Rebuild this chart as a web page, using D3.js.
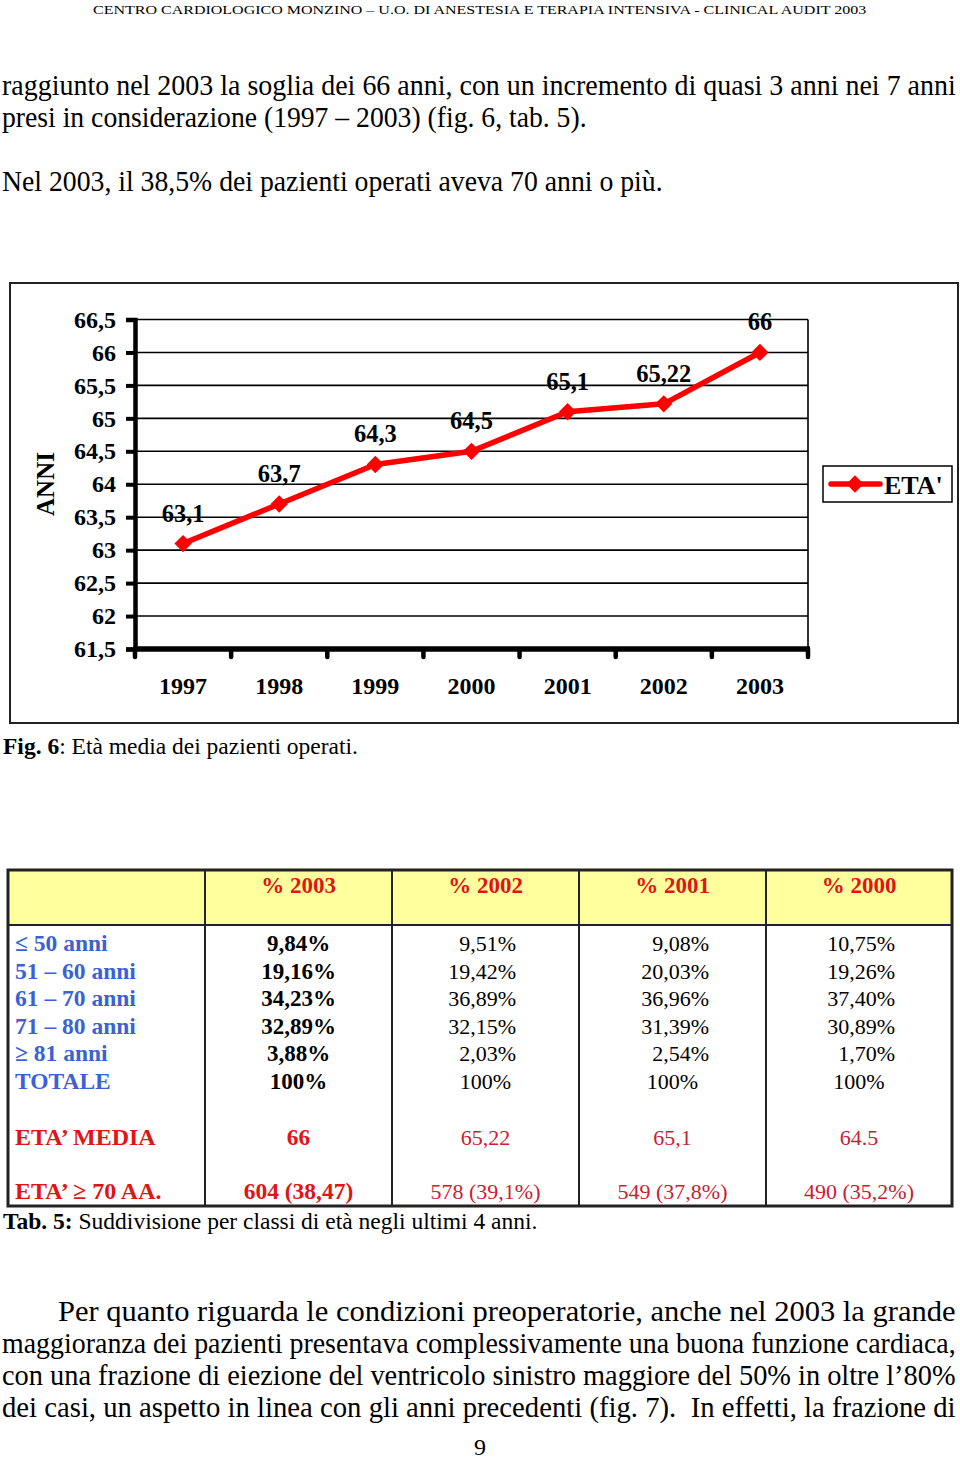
<!DOCTYPE html>
<html><head><meta charset="utf-8">
<script src="https://cdn.jsdelivr.net/npm/d3@7"></script>
<style>body{margin:0;background:#fff}svg{display:block}</style>
</head><body>
<script>
// ---------- DATA ----------
const years = ["1997","1998","1999","2000","2001","2002","2003"];
const etaValues = [63.1, 63.7, 64.3, 64.5, 65.1, 65.22, 66];
const etaLabels = ["63,1","63,7","64,3","64,5","65,1","65,22","66"];
const yTickValues = [61.5,62,62.5,63,63.5,64,64.5,65,65.5,66,66.5];
const seriesName = "ETA'";
const axisTitle = "ANNI";

const tableCols = ["% 2003","% 2002","% 2001","% 2000"];
const rowLabels = ["≤ 50 anni","51 – 60 anni","61 – 70 anni","71 – 80 anni","≥ 81 anni","TOTALE"];
const pct2003 = ["9,84%","19,16%","34,23%","32,89%","3,88%","100%"];
const pct2002 = ["9,51%","19,42%","36,89%","32,15%","2,03%","100%"];
const pct2001 = ["9,08%","20,03%","36,96%","31,39%","2,54%","100%"];
const pct2000 = ["10,75%","19,26%","37,40%","30,89%","1,70%","100%"];
const etaMediaLabel = "ETA’ MEDIA";
const etaMedia = ["66","65,22","65,1","64.5"];
const eta70Label = "ETA’ ≥ 70 AA.";
const eta70 = ["604 (38,47)","578 (39,1%)","549 (37,8%)","490 (35,2%)"];

const headerText = "CENTRO CARDIOLOGICO MONZINO – U.O. DI ANESTESIA E TERAPIA INTENSIVA - CLINICAL AUDIT 2003";
const paraTop = [
  {t:"raggiunto nel 2003 la soglia dei 66 anni, con un incremento di quasi 3 anni nei 7 anni", x:2, w:954, y:95},
  {t:"presi in considerazione (1997 – 2003) (fig. 6, tab. 5).", x:2, w:585, y:127},
  {t:"Nel 2003, il 38,5% dei pazienti operati aveva 70 anni o più.", x:2, w:661, y:191}
];
const paraBottom = [
  {t:"Per quanto riguarda le condizioni preoperatorie, anche nel 2003 la grande", x:58, w:898, y:1321},
  {t:"maggioranza dei pazienti presentava complessivamente una buona funzione cardiaca,", x:2, w:954, y:1353},
  {t:"con una frazione di eiezione del ventricolo sinistro maggiore del 50% in oltre l’80%", x:2, w:954, y:1385},
  {t:"dei casi, un aspetto in linea con gli anni precedenti (fig. 7).  In effetti, la frazione di", x:2, w:954, y:1417}
];

// ---------- SVG ----------
const W = 960, H = 1459;
const svg = d3.select("body").append("svg").attr("width", W).attr("height", H)
  .attr("font-family", "Liberation Serif, Times New Roman, serif");

// condensed text: scale horizontally to the target width
function condensed(d, size) {
  const t = svg.append("text").attr("font-size", size).style("white-space", "pre").text(d.t);
  const nat = t.node().getComputedTextLength();
  t.attr("transform", `translate(${d.x},${d.y}) scale(${d.w / nat},1)`);
  return t;
}
condensed({t: headerText, x: 93, y: 14, w: 774}, 13.5);
paraTop.forEach(d => condensed(d, 29));
paraBottom.forEach(d => condensed(d, 29));
svg.append("text").attr("x", 480).attr("y", 1455).attr("text-anchor", "middle")
  .attr("font-size", 24).text("9");

// ---------- CHART ----------
svg.append("rect").attr("x", 10).attr("y", 283).attr("width", 948).attr("height", 440)
  .attr("fill", "none").attr("stroke", "#222").attr("stroke-width", 2);

const x = d3.scaleBand().domain(years).range([135, 808]);
const y = d3.scaleLinear().domain([61.5, 66.5]).range([649, 319.5]);
const fmt = v => String(v).replace(".", ",");

const g = svg.append("g");
// gridlines
g.selectAll(".grid").data(yTickValues.slice(1)).enter().append("line")
  .attr("x1", 135).attr("x2", 808).attr("y1", d => y(d)).attr("y2", d => y(d))
  .attr("stroke", "#000").attr("stroke-width", 1.6);
g.append("line").attr("x1", 808).attr("x2", 808).attr("y1", y(66.5)).attr("y2", y(61.5))
  .attr("stroke", "#000").attr("stroke-width", 1.6);

// y axis
const yAxis = d3.axisLeft(y).tickValues(yTickValues).tickFormat(fmt).tickSize(9).tickPadding(10);
const ya = g.append("g").attr("transform", "translate(135,0)").call(yAxis);
ya.select(".domain").attr("stroke-width", 4.5).attr("stroke", "#000");
ya.selectAll(".tick line").attr("stroke-width", 4).attr("stroke", "#000");
ya.selectAll(".tick text").attr("font-size", 24).attr("font-weight", "bold")
  .attr("font-family", "Liberation Serif, serif").attr("fill", "#000");

// x axis
const xa = g.append("g").attr("transform", "translate(0,649)");
xa.append("line").attr("x1", 133).attr("x2", 810).attr("y1", 0).attr("y2", 0)
  .attr("stroke", "#000").attr("stroke-width", 5.5);
const bounds = years.map(d => x(d)).concat([x.range()[1]]);
xa.selectAll(".xt").data(bounds).enter().append("line")
  .attr("x1", d => d).attr("x2", d => d).attr("y1", 0).attr("y2", 8)
  .attr("stroke", "#000").attr("stroke-width", 4.5).attr("stroke-linecap", "round");
xa.selectAll(".xl").data(years).enter().append("text")
  .attr("x", d => x(d) + x.bandwidth() / 2).attr("y", 45).attr("text-anchor", "middle")
  .attr("font-size", 24).attr("font-weight", "bold").text(d => d);

// axis title
svg.append("text").attr("transform", "translate(54,484) rotate(-90)")
  .attr("text-anchor", "middle").attr("font-size", 25).attr("font-weight", "bold").text(axisTitle);

// line
const cx = (d, i) => x(years[i]) + x.bandwidth() / 2;
const line = d3.line().x((d, i) => cx(d, i)).y(d => y(d));
g.append("path").datum(etaValues).attr("d", line).attr("fill", "none")
  .attr("stroke", "#ff0000").attr("stroke-width", 5.5).attr("stroke-linejoin", "round");
const diamond = d3.symbol().type(d3.symbolSquare).size(150);
g.selectAll(".pt").data(etaValues).enter().append("path").attr("d", diamond)
  .attr("transform", (d, i) => `translate(${cx(d, i)},${y(d)}) rotate(45)`).attr("fill", "#ff0000");
g.selectAll(".lbl").data(etaValues).enter().append("text")
  .attr("x", (d, i) => cx(d, i)).attr("y", d => y(d) - 22).attr("text-anchor", "middle")
  .attr("font-size", 24.5).attr("font-weight", "bold").text((d, i) => etaLabels[i]);

// legend
const lg = svg.append("g");
lg.append("rect").attr("x", 823).attr("y", 466).attr("width", 129).attr("height", 36)
  .attr("fill", "#fff").attr("stroke", "#000").attr("stroke-width", 1.5);
lg.append("line").attr("x1", 831).attr("x2", 880).attr("y1", 484).attr("y2", 484)
  .attr("stroke", "#ff0000").attr("stroke-width", 5.5).attr("stroke-linecap", "round");
lg.append("path").attr("d", diamond).attr("transform", "translate(855,484) rotate(45)").attr("fill", "#ff0000");
lg.append("text").attr("x", 884).attr("y", 494).attr("font-size", 26).attr("font-weight", "bold").text(seriesName);

// caption fig 6
const c6 = svg.append("text").attr("x", 3).attr("y", 754).attr("font-size", 23.5);
c6.append("tspan").attr("font-weight", "bold").text("Fig. 6");
c6.append("tspan").text(": Età media dei pazienti operati.");

// ---------- TABLE ----------
const colX = [8, 205, 392, 579, 766, 952];
const tTop = 870, tHead = 925, tBot = 1206;
const blue = "#3a62d6", redB = "#e01515", redR = "#cc2030";
svg.append("rect").attr("x", colX[0]).attr("y", tTop).attr("width", colX[5] - colX[0]).attr("height", tHead - tTop)
  .attr("fill", "#ffff9e");
svg.append("line").attr("x1", colX[0]).attr("x2", colX[5]).attr("y1", tHead).attr("y2", tHead)
  .attr("stroke", "#222").attr("stroke-width", 2);
svg.selectAll(".cl").data(colX.slice(1, 5)).enter().append("line")
  .attr("x1", d => d).attr("x2", d => d).attr("y1", tTop).attr("y2", tBot)
  .attr("stroke", "#222").attr("stroke-width", 2);
svg.append("rect").attr("x", colX[0]).attr("y", tTop).attr("width", colX[5] - colX[0]).attr("height", tBot - tTop)
  .attr("fill", "none").attr("stroke", "#222").attr("stroke-width", 3);

const colCenter = i => (colX[i + 1] + colX[i + 2]) / 2;
svg.selectAll(".th").data(tableCols).enter().append("text")
  .attr("x", (d, i) => colCenter(i)).attr("y", 893).attr("text-anchor", "middle")
  .attr("font-size", 23).attr("font-weight", "bold").attr("fill", redB).text(d => d);

const rowY = [951, 979, 1006, 1034, 1061, 1089];
svg.selectAll(".rl").data(rowLabels).enter().append("text")
  .attr("x", 15).attr("y", (d, i) => rowY[i]).attr("font-size", 23.5).attr("font-weight", "bold")
  .attr("fill", blue).text(d => d);

const cols = [pct2003, pct2002, pct2001, pct2000];
const rightEdge = [null, 516, 709, 895];
cols.forEach((arr, ci) => {
  svg.selectAll(null).data(arr).enter().append("text")
    .attr("x", (d, i) => (ci === 0 || i === 5) ? colCenter(ci) : rightEdge[ci])
    .attr("y", (d, i) => rowY[i])
    .attr("text-anchor", (d, i) => (ci === 0 || i === 5) ? "middle" : "end")
    .attr("font-size", ci === 0 ? 23 : 22).attr("font-weight", ci === 0 ? "bold" : "normal")
    .attr("fill", "#000").text(d => d);
});

svg.append("text").attr("x", 15).attr("y", 1145).attr("font-size", 24).attr("font-weight", "bold")
  .attr("fill", redB).text(etaMediaLabel);
svg.append("text").attr("x", 15).attr("y", 1199).attr("font-size", 24).attr("font-weight", "bold")
  .attr("fill", redB).text(eta70Label);
svg.selectAll(".em").data(etaMedia).enter().append("text")
  .attr("x", (d, i) => colCenter(i)).attr("y", 1145).attr("text-anchor", "middle")
  .attr("font-size", (d, i) => i === 0 ? 23.5 : 22).attr("font-weight", (d, i) => i === 0 ? "bold" : "normal")
  .attr("fill", (d, i) => i === 0 ? redB : redR).text(d => d);
svg.selectAll(".e7").data(eta70).enter().append("text")
  .attr("x", (d, i) => colCenter(i)).attr("y", 1199).attr("text-anchor", "middle")
  .attr("font-size", (d, i) => i === 0 ? 23.5 : 22).attr("font-weight", (d, i) => i === 0 ? "bold" : "normal")
  .attr("fill", (d, i) => i === 0 ? redB : redR).text(d => d);

// caption tab 5
const c5 = svg.append("text").attr("x", 3).attr("y", 1229).attr("font-size", 23.5);
c5.append("tspan").attr("font-weight", "bold").text("Tab. 5:");
c5.append("tspan").text(" Suddivisione per classi di età negli ultimi 4 anni.");
</script>
</body></html>
